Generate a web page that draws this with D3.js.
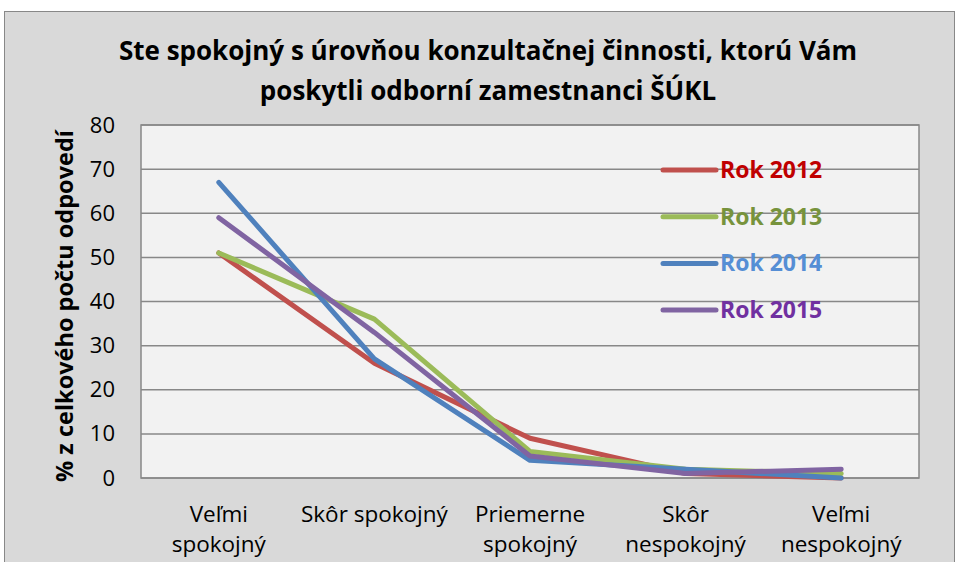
<!DOCTYPE html>
<html>
<head>
<meta charset="utf-8">
<script src="https://cdn.jsdelivr.net/npm/d3@7"></script>
<style>
  body { margin: 0; background: #fff; }
  svg { display: block; font-family: "Open Sans", Lato, sans-serif; }
</style>
</head>
<body>
<svg id="svg" width="960" height="562"></svg>
<script>
// Data
const categories = [["Veľmi", "spokojný"], ["Skôr spokojný"], ["Priemerne", "spokojný"], ["Skôr", "nespokojný"], ["Veľmi", "nespokojný"]];
const seriesNames = ["Rok 2012", "Rok 2013", "Rok 2014", "Rok 2015"];
const rok2012 = [51, 26, 9, 1, 0];
const rok2013 = [51, 36, 6, 2, 1];
const rok2014 = [67, 27, 4, 2, 0];
const rok2015 = [59, 33, 5, 1, 2];
const yTicks = [0, 10, 20, 30, 40, 50, 60, 70, 80];

const lineColors = ["#c0504d", "#9bbb59", "#4f81bd", "#8064a2"];
const textColors = ["#c00000", "#77933c", "#558ed5", "#7030a0"];
const allSeries = [rok2012, rok2013, rok2014, rok2015];

const svg = d3.select("#svg");

// chart frame
svg.append("rect")
    .attr("x", 4.5).attr("y", 11.5)
    .attr("width", 950).attr("height", 560)
    .attr("fill", "#d9d9d9")
    .attr("stroke", "#888").attr("stroke-width", 1);

// plot area
const plot = { left: 141, top: 125, right: 919, bottom: 478 };

const xScale = d3.scaleBand()
    .domain(d3.range(categories.length))
    .range([plot.left, plot.right]);
const yScale = d3.scaleLinear().domain([0, 80]).range([plot.bottom, plot.top]);

svg.append("rect")
    .attr("x", plot.left).attr("y", plot.top)
    .attr("width", plot.right - plot.left).attr("height", plot.bottom - plot.top)
    .attr("fill", "#f2f2f2")
    .attr("stroke", "#888").attr("stroke-width", 1.5);

// gridlines
svg.append("g")
    .selectAll("line")
    .data(yTicks)
    .join("line")
    .attr("x1", plot.left).attr("x2", plot.right)
    .attr("y1", d => yScale(d)).attr("y2", d => yScale(d))
    .attr("stroke", "#888").attr("stroke-width", 1.5);

// y axis labels
const yAxis = d3.axisLeft(yScale).tickValues(yTicks).tickSize(0).tickPadding(26);
const gy = svg.append("g").attr("transform", `translate(${plot.left},0)`).call(yAxis);
gy.select(".domain").remove();
gy.selectAll("text")
    .attr("font-family", "'Open Sans', sans-serif")
    .attr("font-size", 22).attr("fill", "#000");

// x axis labels (two-line)
const gx = svg.append("g");
categories.forEach((lines, i) => {
  const t = gx.append("text")
      .attr("x", xScale(i) + xScale.bandwidth() / 2)
      .attr("y", 522)
      .attr("text-anchor", "middle")
      .attr("font-size", 22.5).attr("fill", "#000");
  lines.forEach((ln, j) => {
    t.append("tspan")
        .attr("x", xScale(i) + xScale.bandwidth() / 2)
        .attr("dy", j === 0 ? 0 : 30)
        .text(ln);
  });
});

// lines
const line = d3.line()
    .x((d, i) => xScale(i) + xScale.bandwidth() / 2)
    .y(d => yScale(d));

svg.append("g")
    .selectAll("path")
    .data(allSeries)
    .join("path")
    .attr("d", line)
    .attr("fill", "none")
    .attr("stroke", (d, i) => lineColors[i])
    .attr("stroke-width", 5)
    .attr("stroke-linecap", "round")
    .attr("stroke-linejoin", "round");

// legend
const legend = svg.append("g");
seriesNames.forEach((name, i) => {
  const y = 170 + i * 46.7;
  legend.append("line")
      .attr("x1", 663).attr("x2", 716)
      .attr("y1", y).attr("y2", y)
      .attr("stroke", lineColors[i]).attr("stroke-width", 5)
      .attr("stroke-linecap", "round");
  legend.append("text")
      .attr("x", 720).attr("y", y + 8)
      .attr("font-size", 23).attr("font-weight", "bold")
      .attr("fill", textColors[i])
      .text(name);
});

// title
const title = svg.append("text")
    .attr("text-anchor", "middle")
    .attr("font-size", 26).attr("font-weight", "bold").attr("fill", "#000");
title.append("tspan").attr("x", 488).attr("y", 60)
    .text("Ste spokojný s úrovňou konzultačnej činnosti, ktorú Vám");
title.append("tspan").attr("x", 488).attr("y", 100)
    .text("poskytli odborní zamestnanci ŠÚKL");

// y axis title
svg.append("text")
    .attr("transform", "translate(73,306) rotate(-90)")
    .attr("text-anchor", "middle")
    .attr("font-size", 23.5).attr("font-weight", "bold").attr("fill", "#000")
    .text("% z celkového počtu odpovedí");
</script>
</body>
</html>
